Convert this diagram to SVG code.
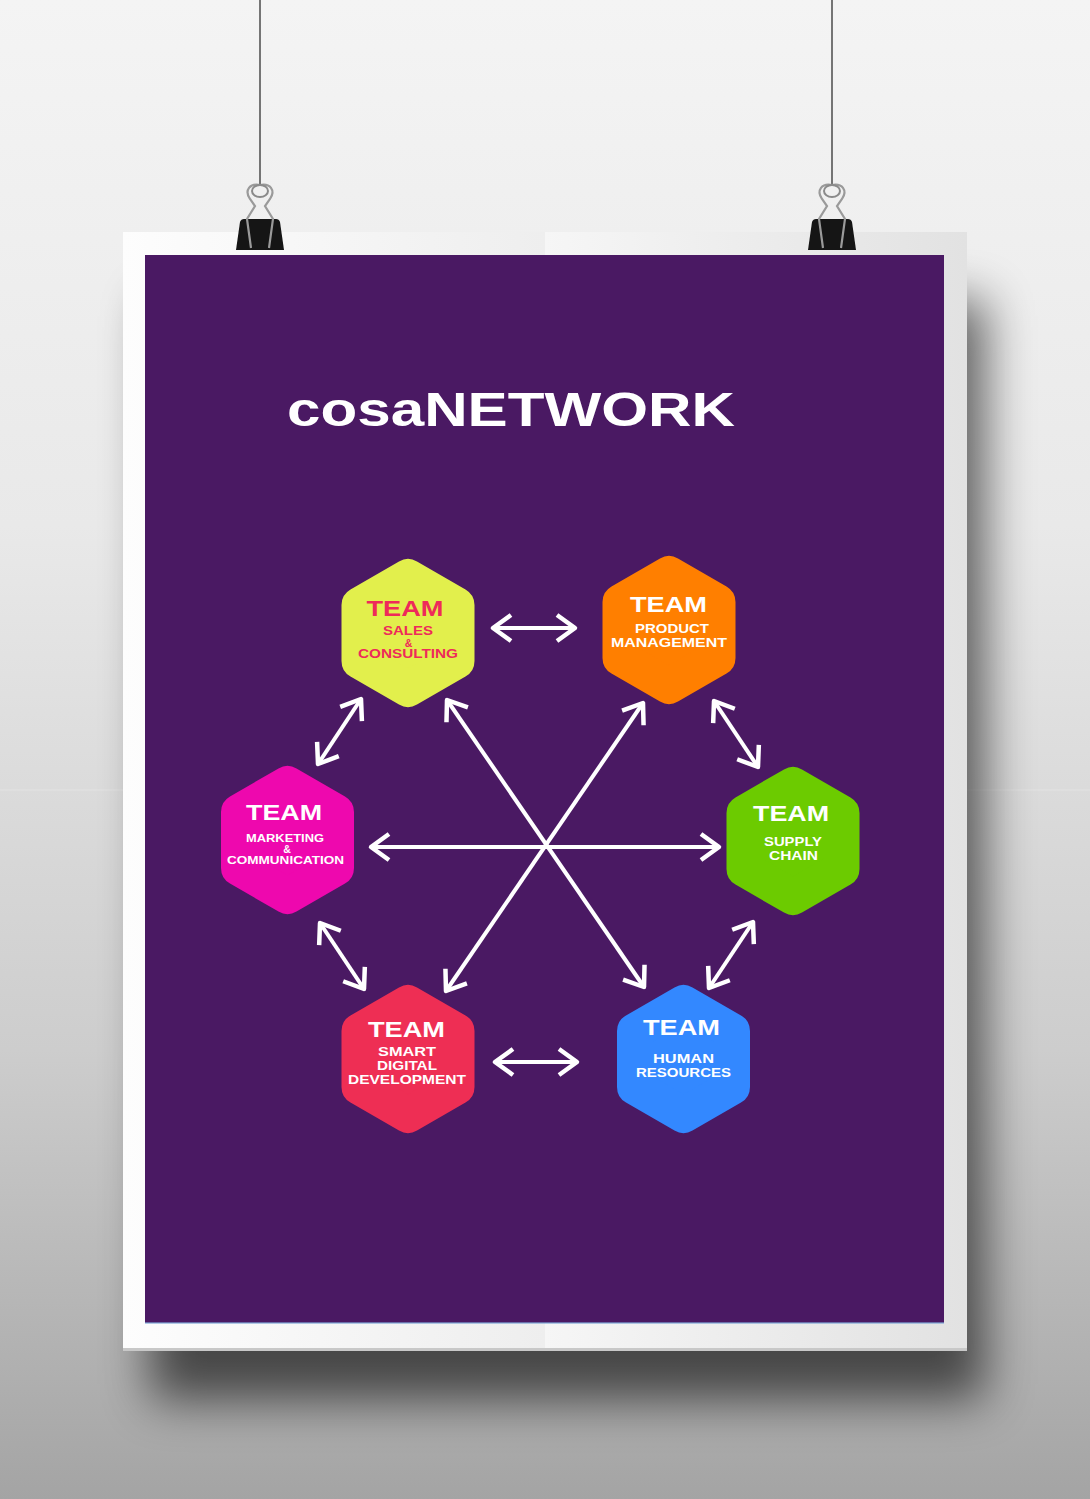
<svg xmlns="http://www.w3.org/2000/svg" xmlns:xlink="http://www.w3.org/1999/xlink" width="1090" height="1499" viewBox="0 0 1090 1499">
<defs>
<style>
.t{font-family:"Liberation Sans",Arial,sans-serif;font-weight:bold;text-anchor:middle;fill:#fff}
.big{font-size:22px}
.sm{font-size:12.5px}
.xs{font-size:11px}
.amp{font-size:10.5px}
.pk{fill:#ee2a5a}
.conn line{stroke:#fff;stroke-width:4;fill:none;marker-start:url(#ah);marker-end:url(#ah)}
</style>
<linearGradient id="bg" x1="0" y1="0" x2="0" y2="1">
<stop offset="0" stop-color="#f4f4f4"/>
<stop offset="0.35" stop-color="#e9e9e9"/>
<stop offset="0.7" stop-color="#cdcdcd"/>
<stop offset="1" stop-color="#a4a4a4"/>
</linearGradient>
<linearGradient id="frame" x1="0" y1="0" x2="1" y2="0">
<stop offset="0" stop-color="#fdfdfd"/>
<stop offset="0.5" stop-color="#eeeeee"/>
<stop offset="0.5" stop-color="#f6f6f6"/>
<stop offset="1" stop-color="#e2e2e2"/>
</linearGradient>
<filter id="blur" x="-15%" y="-15%" width="130%" height="130%">
<feGaussianBlur stdDeviation="24"/>
</filter>
<marker id="ah" markerUnits="userSpaceOnUse" viewBox="-26 -18 32 36" refX="0" refY="0" markerWidth="32" markerHeight="36" orient="auto-start-reverse" overflow="visible">
<path d="M-18,-13 L0,0 L-18,13" fill="none" stroke="#fff" stroke-width="4.5" stroke-linejoin="round"/>
</marker>
<polygon id="hex" points="0,-56 48.5,-28 48.5,28 0,56 -48.5,28 -48.5,-28" stroke-width="36" stroke-linejoin="round"/>
<g id="clip">
<line x1="260" y1="0" x2="260" y2="186" stroke="#555" stroke-width="1.6"/>
<path d="M236,250 L240,222 Q241,219 244,219 L276,219 Q279,219 280,222 L284,250 Z" fill="#151515"/>
<path d="M260,185 C250,183 244,190 250,199 L255,206 L247,219 L251,248" fill="none" stroke="#9a9a9a" stroke-width="2.2"/>
<path d="M260,185 C270,183 276,190 270,199 L265,206 L273,219 L269,248" fill="none" stroke="#9a9a9a" stroke-width="2.2"/>
<ellipse cx="260" cy="191" rx="8" ry="6" fill="none" stroke="#8a8a8a" stroke-width="2"/>
</g>
</defs>

<rect x="0" y="0" width="1090" height="1499" fill="url(#bg)"/>
<rect x="0" y="789" width="123" height="2" fill="#ffffff" opacity="0.12"/>
<rect x="967" y="789" width="123" height="2" fill="#ffffff" opacity="0.12"/>

<!-- poster shadow -->
<rect x="150" y="300" width="835" height="1100" fill="#000" opacity="0.6" filter="url(#blur)"/>

<!-- poster frame -->
<rect x="123" y="232" width="844" height="1119" fill="url(#frame)"/>
<rect x="123" y="1348" width="844" height="3" fill="#c8c8c8"/>
<rect x="145" y="255" width="799" height="1068" fill="#4a1963"/>
<rect x="145" y="1322" width="799" height="2" fill="#7fa8d8" opacity="0.6"/>

<!-- binder clips -->
<use xlink:href="#clip"/>
<use xlink:href="#clip" transform="translate(572,0)"/>

<!-- title -->
<text class="t" x="511" y="426" font-size="49" textLength="448" lengthAdjust="spacingAndGlyphs">cosaNETWORK</text>

<!-- connectors -->
<g id="connectors" class="conn">
<line x1="493" y1="628" x2="575" y2="628"/>
<line x1="495" y1="1062" x2="577" y2="1062"/>
<line x1="361" y1="699" x2="318" y2="764"/>
<line x1="714" y1="701" x2="758" y2="767"/>
<line x1="320" y1="923" x2="364" y2="989"/>
<line x1="753" y1="922" x2="709" y2="988"/>
<line x1="371" y1="847" x2="719" y2="847"/>
<line x1="447" y1="700" x2="644" y2="987"/>
<line x1="643" y1="703" x2="446" y2="991"/>
</g>

<!-- nodes -->
<g id="team-sales">
<use xlink:href="#hex" x="408" y="633" fill="#e2ef4c" stroke="#e2ef4c"/>
<text class="t big pk" x="405" y="616" textLength="77" lengthAdjust="spacingAndGlyphs">TEAM</text>
<text class="t sm pk" x="408" y="635" textLength="50" lengthAdjust="spacingAndGlyphs">SALES</text>
<text class="t amp pk" x="408.5" y="646.5">&amp;</text>
<text class="t sm pk" x="408" y="658" textLength="100" lengthAdjust="spacingAndGlyphs">CONSULTING</text>
</g>

<g id="team-product">
<use xlink:href="#hex" x="669" y="630" fill="#ff7f00" stroke="#ff7f00"/>
<text class="t big" x="668.5" y="612" textLength="77" lengthAdjust="spacingAndGlyphs">TEAM</text>
<text class="t sm" x="672" y="633" textLength="74" lengthAdjust="spacingAndGlyphs">PRODUCT</text>
<text class="t sm" x="669" y="647" textLength="116" lengthAdjust="spacingAndGlyphs">MANAGEMENT</text>
</g>

<g id="team-marketing">
<use xlink:href="#hex" x="287.5" y="840" fill="#ee08ae" stroke="#ee08ae"/>
<text class="t big" x="284" y="820" textLength="76" lengthAdjust="spacingAndGlyphs">TEAM</text>
<text class="t xs" x="285" y="842" textLength="78" lengthAdjust="spacingAndGlyphs">MARKETING</text>
<text class="t amp" x="287" y="853">&amp;</text>
<text class="t xs" x="285.5" y="864" textLength="117" lengthAdjust="spacingAndGlyphs">COMMUNICATION</text>
</g>

<g id="team-supply">
<use xlink:href="#hex" x="793" y="841" fill="#6ccb00" stroke="#6ccb00"/>
<text class="t big" x="791" y="821" textLength="76" lengthAdjust="spacingAndGlyphs">TEAM</text>
<text class="t sm" x="793" y="846" textLength="58" lengthAdjust="spacingAndGlyphs">SUPPLY</text>
<text class="t sm" x="793.5" y="860" textLength="49" lengthAdjust="spacingAndGlyphs">CHAIN</text>
</g>

<g id="team-smart">
<use xlink:href="#hex" x="408" y="1059" fill="#ee2e54" stroke="#ee2e54"/>
<text class="t big" x="406.5" y="1037" textLength="77" lengthAdjust="spacingAndGlyphs">TEAM</text>
<text class="t sm" x="407" y="1056" textLength="58" lengthAdjust="spacingAndGlyphs">SMART</text>
<text class="t sm" x="407" y="1070" textLength="60" lengthAdjust="spacingAndGlyphs">DIGITAL</text>
<text class="t sm" x="407" y="1084" textLength="118" lengthAdjust="spacingAndGlyphs">DEVELOPMENT</text>
</g>

<g id="team-hr">
<use xlink:href="#hex" x="683.5" y="1059" fill="#3388ff" stroke="#3388ff"/>
<text class="t big" x="681.5" y="1035" textLength="77" lengthAdjust="spacingAndGlyphs">TEAM</text>
<text class="t sm" x="683.5" y="1063" textLength="61" lengthAdjust="spacingAndGlyphs">HUMAN</text>
<text class="t sm" x="683.5" y="1077" textLength="95" lengthAdjust="spacingAndGlyphs">RESOURCES</text>
</g>
</svg>
